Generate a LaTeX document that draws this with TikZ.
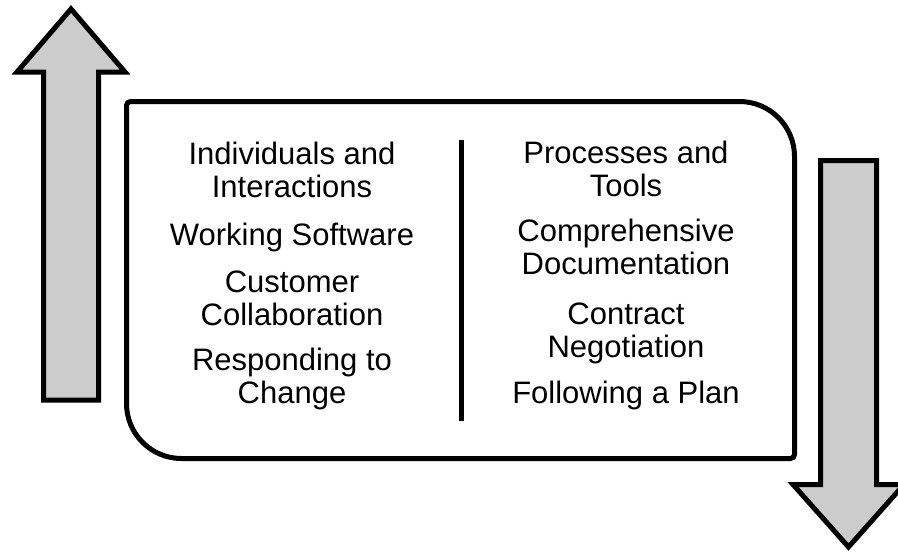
\documentclass[tikz,border=0pt]{standalone}
\usepackage{fontspec}
\setmainfont{Liberation Sans}
\definecolor{arrowgray}{RGB}{204,204,204}
\begin{document}
\begin{tikzpicture}[x=1pt,y=1pt,
  bigarrow/.style={draw=black, fill=arrowgray, line width=5pt, miter limit=10, line join=miter},
  boxline/.style={draw=black, line width=5pt},
  divline/.style={draw=black, line width=4.5pt},
  item/.style={font=\fontsize{31}{33}\selectfont, align=center, inner sep=0pt, anchor=base}]
\useasboundingbox (0,0) rectangle (898,-552);
% up arrow
\path[bigarrow] (43.5,-400) -- (43.5,-72) -- (17,-72) -- (71,-9) -- (125,-72) -- (98.5,-72) -- (98.5,-400) -- cycle;
% down arrow
\path[bigarrow] (820.5,-160.5) -- (876.5,-160.5) -- (876.5,-484.5) -- (904,-484.5) -- (848.5,-547) -- (793,-484.5) -- (820.5,-484.5) -- cycle;
% frame
\path[boxline] (130.5,-101.5) -- (739.5,-101.5) arc[start angle=90,end angle=0,radius=55]
  -- (794.5,-454.5) arc[start angle=0,end angle=-90,radius=4]
  -- (181.5,-458.5) arc[start angle=270,end angle=180,radius=55]
  -- (126.5,-105.5) arc[start angle=180,end angle=90,radius=4] -- cycle;
% divider
\coordinate (dtop) at (461.5,-140);
\coordinate (dbot) at (461.5,-421);
\draw[divline] (dtop) -- (dbot);
% left column (base anchor = baseline of last line)
\node[item] (l1) at (292,-197) {Individuals and\\Interactions};
\node[item] (l2) at (292,-245) {Working Software};
\node[item] (l3) at (292,-325) {Customer\\Collaboration};
\node[item] (l4) at (292,-403) {Responding to\\Change};
% right column
\node[item] (r1) at (626,-196) {Processes and\\Tools};
\node[item] (r2) at (626,-274) {Comprehensive\\Documentation};
\node[item] (r3) at (626,-357) {Contract\\Negotiation};
\node[item] (r4) at (626,-403) {Following a Plan};
\end{tikzpicture}
\end{document}
